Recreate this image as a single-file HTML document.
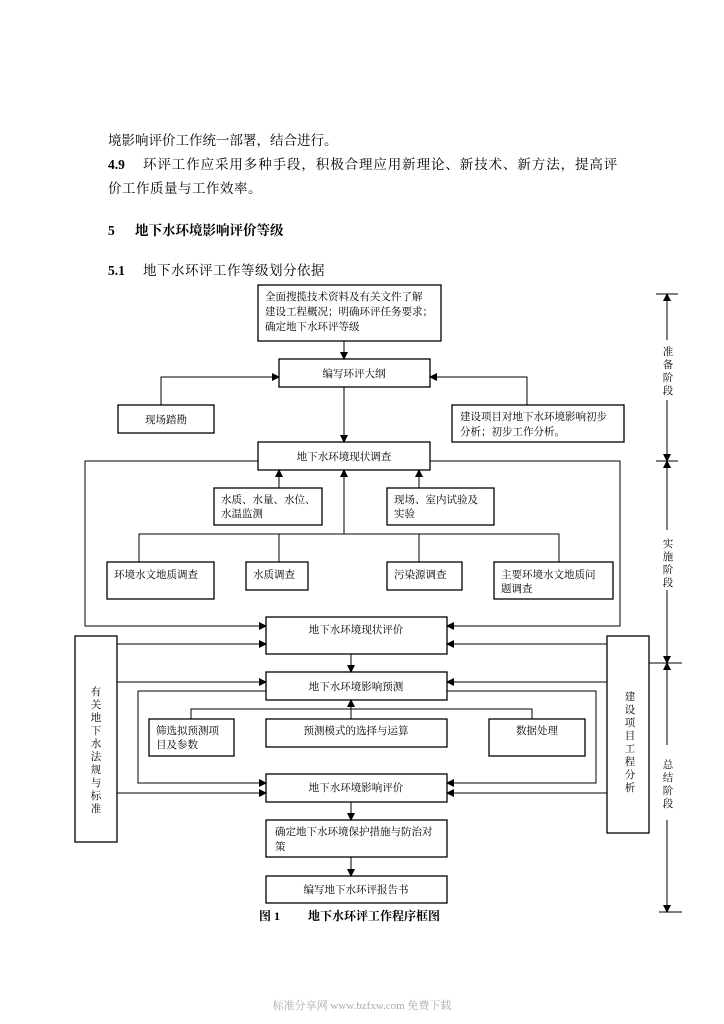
<!DOCTYPE html>
<html><head><meta charset="utf-8"><style>
html,body{margin:0;padding:0;background:#fff;}
body{width:724px;height:1024px;position:relative;overflow:hidden;}
svg{position:absolute;left:0;top:0;}
text{font-family:"Liberation Serif","Noto Serif CJK SC","Noto Sans CJK SC",serif;fill:#000;}
.d{font-size:10.5px;}
</style></head><body>
<svg width="724" height="1024" viewBox="0 0 724 1024">
<defs>
<marker id="a" markerWidth="8" markerHeight="8" refX="7" refY="4" orient="auto" markerUnits="userSpaceOnUse"><path d="M0,0 L8,4 L0,8 z" fill="#000"/></marker>
</defs>
<g style="font-size:13.5px">
<text x="108" y="145">境影响评价工作统一部署，结合进行。</text>
<text x="108" y="169"><tspan font-weight="bold">4.9</tspan><tspan x="143" letter-spacing="0.9">环评工作应采用多种手段，积极合理应用新理论、新技术、新方法，提高评</tspan></text>
<text x="108" y="193" letter-spacing="0.5">价工作质量与工作效率。</text>
<text x="108" y="235" font-weight="bold">5</text>
<text x="135" y="235" font-weight="bold">地下水环境影响评价等级</text>
<text x="108" y="275" font-weight="bold">5.1</text>
<text x="143" y="275" letter-spacing="0.5">地下水环评工作等级划分依据</text>
</g>
<g fill="none" stroke="#000" stroke-width="1.3">
<rect x="258" y="285" width="183" height="56"/>
<rect x="279" y="359" width="151" height="28"/>
<rect x="118" y="405" width="96" height="28"/>
<rect x="452" y="405" width="172" height="37"/>
<rect x="258" y="442" width="172" height="28"/>
<rect x="214" y="488" width="108" height="37"/>
<rect x="387" y="488" width="107" height="37"/>
<rect x="107" y="562" width="107" height="37"/>
<rect x="246" y="562" width="62" height="28"/>
<rect x="387" y="562" width="75" height="28"/>
<rect x="494" y="562" width="119" height="37"/>
<rect x="266" y="617" width="181" height="37"/>
<rect x="266" y="672" width="181" height="28"/>
<rect x="149" y="719" width="85" height="37"/>
<rect x="266" y="719" width="181" height="28"/>
<rect x="489" y="719" width="96" height="37"/>
<rect x="266" y="774" width="181" height="28"/>
<rect x="266" y="820" width="181" height="37"/>
<rect x="266" y="876" width="181" height="27"/>
<rect x="75" y="636" width="42" height="206"/>
<rect x="607" y="636" width="42" height="197"/>
</g>
<g fill="none" stroke="#000" stroke-width="1">
<line x1="344" y1="341" x2="344" y2="359" marker-end="url(#a)"/>
<polyline points="161,405 161,377 279,377" marker-end="url(#a)"/>
<polyline points="527,405 527,377 430,377" marker-end="url(#a)"/>
<line x1="344" y1="387" x2="344" y2="442" marker-end="url(#a)"/>
<polyline points="258,461 85,461 85,626 266,626" marker-end="url(#a)"/>
<polyline points="430,461 620,461 620,626 447,626" marker-end="url(#a)"/>
<line x1="279" y1="488" x2="279" y2="470" marker-end="url(#a)"/>
<line x1="419" y1="488" x2="419" y2="470" marker-end="url(#a)"/>
<line x1="344" y1="534" x2="344" y2="470" marker-end="url(#a)"/>
<polyline points="139,562 139,534 559,534 559,562"/>
<line x1="279" y1="534" x2="279" y2="562"/>
<line x1="419" y1="534" x2="419" y2="562"/>
<line x1="117" y1="644" x2="266" y2="644" marker-end="url(#a)"/>
<line x1="607" y1="644" x2="447" y2="644" marker-end="url(#a)"/>
<line x1="117" y1="682" x2="266" y2="682" marker-end="url(#a)"/>
<line x1="607" y1="682" x2="447" y2="682" marker-end="url(#a)"/>
<line x1="117" y1="793" x2="266" y2="793" marker-end="url(#a)"/>
<line x1="607" y1="793" x2="447" y2="793" marker-end="url(#a)"/>
<line x1="351" y1="654" x2="351" y2="672" marker-end="url(#a)"/>
<polyline points="266,691 138,691 138,783 266,783" marker-end="url(#a)"/>
<polyline points="447,691 596,691 596,783 447,783" marker-end="url(#a)"/>
<polyline points="191,719 191,709 532,709 532,719"/>
<line x1="351" y1="719" x2="351" y2="700" marker-end="url(#a)"/>
<line x1="351" y1="802" x2="351" y2="820" marker-end="url(#a)"/>
<line x1="351" y1="857" x2="351" y2="876" marker-end="url(#a)"/>
<line x1="656" y1="294" x2="678" y2="294"/>
<line x1="656" y1="461" x2="678" y2="461"/>
<line x1="649" y1="663" x2="682" y2="663"/>
<line x1="659" y1="912" x2="682" y2="912"/>
<line x1="667" y1="390" x2="667" y2="294" marker-end="url(#a)"/>
<line x1="667" y1="400" x2="667" y2="461" marker-end="url(#a)"/>
<line x1="667" y1="530" x2="667" y2="461" marker-end="url(#a)"/>
<line x1="667" y1="590" x2="667" y2="663" marker-end="url(#a)"/>
<line x1="667" y1="745" x2="667" y2="663" marker-end="url(#a)"/>
<line x1="667" y1="820" x2="667" y2="912" marker-end="url(#a)"/>
</g>
<rect x="660" y="340" width="16" height="52" fill="#fff"/>
<g class="d">
<text x="265" y="300">全面搜揽技术资料及有关文件了解</text>
<text x="265" y="315">建设工程概况；明确环评任务要求；</text>
<text x="265" y="330">确定地下水环评等级</text>
<text x="354" y="377" text-anchor="middle">编写环评大纲</text>
<text x="166" y="423" text-anchor="middle">现场踏勘</text>
<text x="460" y="420">建设项目对地下水环境影响初步</text>
<text x="460" y="435">分析；初步工作分析。</text>
<text x="344" y="460" text-anchor="middle">地下水环境现状调查</text>
<text x="221" y="503">水质、水量、水位、</text>
<text x="221" y="517">水温监测</text>
<text x="394" y="503">现场、室内试验及</text>
<text x="394" y="517">实验</text>
<text x="114" y="578">环境水文地质调查</text>
<text x="253" y="578">水质调查</text>
<text x="394" y="578">污染源调查</text>
<text x="501" y="578">主要环境水文地质问</text>
<text x="501" y="592">题调查</text>
<text x="356" y="633" text-anchor="middle">地下水环境现状评价</text>
<text x="356" y="690" text-anchor="middle">地下水环境影响预测</text>
<text x="156" y="734">筛选拟预测项</text>
<text x="156" y="748">目及参数</text>
<text x="356" y="734" text-anchor="middle">预测模式的选择与运算</text>
<text x="537" y="734" text-anchor="middle">数据处理</text>
<text x="356" y="791" text-anchor="middle">地下水环境影响评价</text>
<text x="275" y="835">确定地下水环境保护措施与防治对</text>
<text x="275" y="850">策</text>
<text x="356" y="893" text-anchor="middle">编写地下水环评报告书</text>
</g>
<g class="d" text-anchor="middle">
<text x="96" y="695">有</text><text x="96" y="708">关</text><text x="96" y="721">地</text><text x="96" y="734">下</text><text x="96" y="747">水</text><text x="96" y="760">法</text><text x="96" y="773">规</text><text x="96" y="786">与</text><text x="96" y="799">标</text><text x="96" y="812">准</text>
<text x="630" y="700">建</text><text x="630" y="713">设</text><text x="630" y="726">项</text><text x="630" y="739">目</text><text x="630" y="752">工</text><text x="630" y="765">程</text><text x="630" y="778">分</text><text x="630" y="791">析</text>
<text x="668" y="355">准</text><text x="668" y="368">备</text><text x="668" y="381">阶</text><text x="668" y="394">段</text>
</g>
<rect x="660" y="532" width="16" height="56" fill="#fff"/>
<rect x="660" y="747" width="16" height="70" fill="#fff"/>
<g class="d" text-anchor="middle">
<text x="668" y="547">实</text><text x="668" y="560">施</text><text x="668" y="573">阶</text><text x="668" y="586">段</text>
<text x="668" y="768">总</text><text x="668" y="781">结</text><text x="668" y="794">阶</text><text x="668" y="807">段</text>
</g>
<text x="259" y="920" font-size="12" font-weight="bold">图 1</text>
<text x="308" y="920" font-size="12" font-weight="bold">地下水环评工作程序框图</text>
<text x="362" y="1009" font-size="11" text-anchor="middle" style="fill:#aaa">标准分享网 www.bzfxw.com 免费下载</text>
</svg>
</body></html>
